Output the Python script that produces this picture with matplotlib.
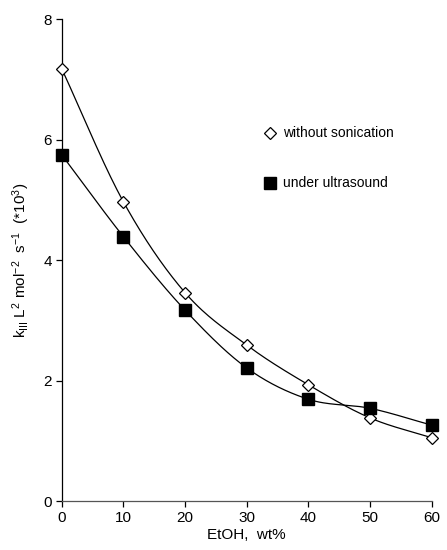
import numpy as np
import matplotlib
matplotlib.use("Agg")
import matplotlib.pyplot as plt

plt.rcParams['font.family'] = ['Liberation Sans', 'DejaVu Sans']
plt.rcParams['mathtext.fontset'] = 'custom'
plt.rcParams['mathtext.rm'] = 'Liberation Sans'
plt.rcParams['mathtext.it'] = 'Liberation Sans'

etoh = [0, 10, 20, 30, 40, 50, 60]
without_sonication = [7.18, 4.97, 3.46, 2.59, 1.93, 1.38, 1.05]
under_ultrasound = [5.75, 4.39, 3.17, 2.21, 1.69, 1.54, 1.26]
x_ticks = [0, 10, 20, 30, 40, 50, 60]
y_ticks = [0, 2, 4, 6, 8]


def smooth(xs, ys, n=30):
    """Catmull-Rom style smoothing through the given points."""
    xs = np.asarray(xs, float)
    ys = np.asarray(ys, float)
    px = np.concatenate([[2 * xs[0] - xs[1]], xs, [2 * xs[-1] - xs[-2]]])
    py = np.concatenate([[2 * ys[0] - ys[1]], ys, [2 * ys[-1] - ys[-2]]])
    ox, oy = [], []
    t = np.linspace(0, 1, n)
    for i in range(1, len(px) - 2):
        p0, p1, p2, p3 = (np.array([px[j], py[j]]) for j in range(i - 1, i + 3))
        seg = 0.5 * ((2 * p1)[:, None] + (-p0 + p2)[:, None] * t
                     + (2 * p0 - 5 * p1 + 4 * p2 - p3)[:, None] * t ** 2
                     + (-p0 + 3 * p1 - 3 * p2 + p3)[:, None] * t ** 3)
        ox.extend(seg[0]); oy.extend(seg[1])
    return np.array(ox), np.array(oy)


fig = plt.figure(figsize=(4.47, 5.50), dpi=100)
ax = fig.add_axes([0.138, 0.089, 0.828, 0.876])

sx, sy = smooth(etoh, without_sonication)
ax.plot(sx, sy, color='black', lw=0.9, zorder=2)
sx, sy = smooth(etoh, under_ultrasound)
ax.plot(sx, sy, color='black', lw=0.9, zorder=2)

ax.plot(etoh, without_sonication, linestyle='none', marker='D', markersize=6,
        markerfacecolor='white', markeredgecolor='black', markeredgewidth=0.9,
        clip_on=False, zorder=3)
ax.plot(etoh, under_ultrasound, linestyle='none', marker='s', markersize=8,
        markerfacecolor='black', markeredgecolor='black',
        clip_on=False, zorder=3)

# legend entries
ax.plot([33.8], [6.11], linestyle='none', marker='D',
        markersize=6, markerfacecolor='white', markeredgecolor='black',
        markeredgewidth=0.9)
ax.text(35.9, 6.11, 'without sonication', fontsize=10, va='center', ha='left')
ax.plot([33.8], [5.28], linestyle='none', marker='s', markersize=8,
        markerfacecolor='black', markeredgecolor='black')
ax.text(35.9, 5.28, 'under ultrasound', fontsize=10, va='center', ha='left')

ax.set_xlim(0, 60)
ax.set_ylim(0, 8)
ax.set_xticks(x_ticks)
ax.set_yticks(y_ticks)
ax.tick_params(labelsize=11, direction='out', length=4, width=0.9, pad=3)
for side in ('top', 'right'):
    ax.spines[side].set_visible(False)
ax.spines['left'].set_linewidth(0.9)
ax.spines['bottom'].set_linewidth(0.9)
ax.spines['bottom'].set_color('#555555')

ax.set_xlabel('EtOH,  wt%', fontsize=11, labelpad=2)
ax.set_ylabel(r'k$_{\mathrm{III}}$ L$^{2}$ mol$^{-2}$  s$^{-1}$  (*10$^{3}$)',
              fontsize=11, labelpad=8)

fig.savefig('out.png', dpi=100)
